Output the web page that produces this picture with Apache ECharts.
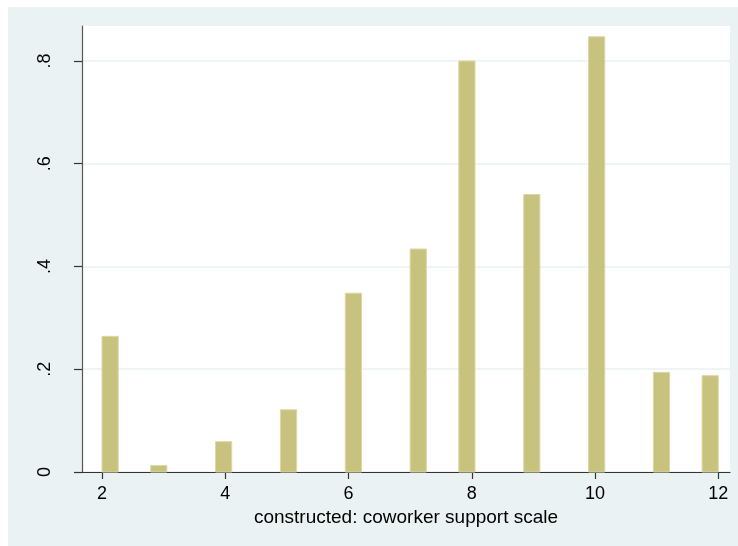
<!DOCTYPE html>
<html>
<head>
<meta charset="utf-8">
<script src="https://cdn.jsdelivr.net/npm/echarts@6/dist/echarts.min.js"></script>
<style>
html,body{margin:0;padding:0;background:#ffffff;}
#chart{width:738px;height:546px;}
</style>
</head>
<body>
<div id="chart"></div>
<script>
// Histogram bins (left edges on the x scale), width and densities
const binLeft = [2.000, 2.789, 3.842, 4.895, 5.947, 7.000, 7.789, 8.842, 9.895, 10.947, 11.737];
const binWidth = 0.263;
const density = [0.264, 0.0128, 0.059, 0.121, 0.348, 0.434, 0.800, 0.540, 0.847, 0.194, 0.1875];
const xTicks = [2, 4, 6, 8, 10, 12];
const yTicks = [0, 0.2, 0.4, 0.6, 0.8];
const xTitle = 'constructed: coworker support scale';

const data = binLeft.map((l, i) => [l, l + binWidth, density[i]]);

const chart = echarts.init(document.getElementById('chart'), null, {renderer: 'canvas'});
const font = "'Liberation Sans', Arial, sans-serif";

chart.setOption({
  animation: false,
  backgroundColor: '#ffffff',
  graphic: [{
    type: 'rect', z: -10, silent: true,
    shape: {x: 8, y: 7, width: 730, height: 539},
    style: {fill: '#EAF2F3'}
  }],
  grid: {
    left: 82, right: 8, top: 26, bottom: 74,
    show: true, backgroundColor: '#ffffff', borderWidth: 0
  },
  xAxis: {
    type: 'value', min: 1.675, max: 12.19,
    name: xTitle, nameLocation: 'middle', nameGap: 30,
    nameTextStyle: {fontFamily: font, fontSize: 19, color: '#000'},
    axisLine: {show: true, onZero: false, lineStyle: {color: '#333', width: 1.2}},
    axisTick: {show: true, length: 7, customValues: xTicks, lineStyle: {color: '#333', width: 1.2}},
    axisLabel: {customValues: xTicks, fontFamily: font, fontSize: 18, color: '#000', margin: 13,
      formatter: v => String(v)},
    splitLine: {show: false}
  },
  yAxis: {
    type: 'value', min: 0, max: 0.868,
    axisLine: {show: true, lineStyle: {color: '#555', width: 1.2}},
    axisTick: {show: true, length: 8, customValues: yTicks, lineStyle: {color: '#333', width: 1.2}},
    axisLabel: {customValues: yTicks, fontFamily: font, fontSize: 18, color: '#000', rotate: 90, margin: 28,
      formatter: v => v === 0 ? '0' : String(Math.round(v * 10) / 10).replace(/^0/, '')},
    splitLine: {show: true, lineStyle: {color: '#EAF2F3', width: 1.5}},
    splitNumber: 4, interval: 0.2
  },
  series: [{
    type: 'custom',
    data: data,
    encode: {x: [0, 1], y: 2},
    renderItem: function (params, api) {
      const p0 = api.coord([api.value(0), api.value(2)]);
      const p1 = api.coord([api.value(1), 0]);
      return {
        type: 'rect',
        shape: {x: p0[0], y: p0[1], width: p1[0] - p0[0], height: p1[1] - p0[1]},
        style: {fill: '#C8C27F', stroke: '#DCD7A6', lineWidth: 1}
      };
    }
  }]
});
</script>
</body>
</html>
